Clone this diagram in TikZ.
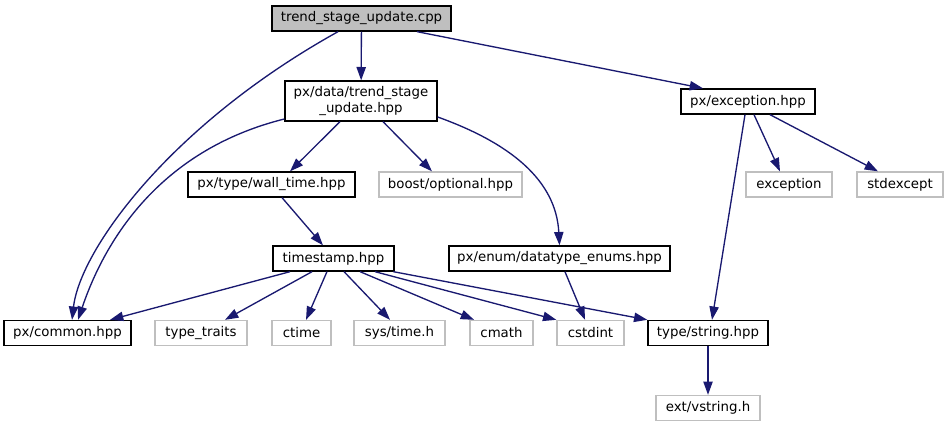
\documentclass[tikz,border=0pt]{standalone}
\usepackage{fontspec}
\setmainfont{DejaVu Sans}
\usetikzlibrary{arrows.meta,positioning}
\definecolor{edgeblue}{HTML}{191970}
\definecolor{extgray}{HTML}{BFBFBF}
\definecolor{rootgray}{HTML}{BFBFBF}

\begin{document}
\begin{tikzpicture}[x=0.75pt,y=-0.75pt,>={Triangle[length=10pt,width=7pt]},font=\fontsize{10}{11.5}\selectfont,
  hdr/.style={draw=black,line width=1pt,minimum height=18.75pt,inner sep=0pt},
  sys/.style={draw=extgray,line width=1pt,minimum height=18.75pt,inner sep=0pt},
  inc/.style={->,edgeblue,line width=1pt}]
\useasboundingbox (0,0) rectangle (948,427);
\node[hdr,fill=rootgray,minimum width=134.25pt] (cpp) at (361.5,18.5) {trend\_stage\_update.cpp};
\node[hdr,minimum width=114pt,minimum height=30pt,align=center] (data) at (361,101) {px/data/trend\_stage\\\_update.hpp};
\node[hdr,minimum width=100.5pt] (exc) at (748,101.5) {px/exception.hpp};
\node[hdr,minimum width=125.25pt] (wall) at (271.5,184.5) {px/type/wall\_time.hpp};
\node[sys,minimum width=107.25pt] (boost) at (450.5,184.5) {boost/optional.hpp};
\node[sys,minimum width=64.5pt] (excs) at (789,184.5) {exception};
\node[sys,minimum width=64.5pt] (stdx) at (900,184.5) {stdexcept};
\node[hdr,minimum width=90.75pt] (ts) at (333.5,258.5) {timestamp.hpp};
\node[hdr,minimum width=165.75pt] (denum) at (559.5,258.5) {px/enum/datatype\_enums.hpp};
\node[hdr,minimum width=95.25pt] (common) at (67.5,333) {px/common.hpp};
\node[sys,minimum width=69pt] (ttraits) at (201,333) {type\_traits};
\node[sys,minimum width=44.25pt] (ctime) at (301.5,333) {ctime};
\node[sys,minimum width=68.25pt] (systime) at (399.5,333) {sys/time.h};
\node[sys,minimum width=47.25pt] (cmath) at (501.5,333) {cmath};
\node[sys,minimum width=50.25pt] (cstdint) at (590.5,333) {cstdint};
\node[hdr,minimum width=90pt] (tstring) at (708,333) {type/string.hpp};
\node[sys,minimum width=78pt] (vstring) at (708,408) {ext/vstring.h};
\draw[inc] (cpp) -- (data);
\draw[inc] ([xshift=41.6pt]cpp.south) -- ([xshift=-33.75pt]exc.north);
\draw[inc] ([xshift=-17.6pt]cpp.south) .. controls (170,125) and (80,250) .. ([xshift=3.4pt]common.north);
\draw[inc] ([yshift=-13.5pt]data.west) .. controls (160,150) and (105,240) .. ([xshift=7.9pt]common.north);
\draw[inc] ([xshift=-15.75pt]data.south) -- ([xshift=13.9pt]wall.north);
\draw[inc] ([xshift=16.5pt]data.south) -- ([xshift=-13.9pt]boost.north);
\draw[inc] ([yshift=-12pt]data.east) .. controls (510,143) and (556,180) .. (denum.north);
\draw[inc] ([xshift=7.9pt]wall.south) -- ([xshift=-7.9pt]ts.north);
\draw[inc] ([xshift=-2.25pt]exc.south) -- ([xshift=3pt]tstring.north);
\draw[inc] ([xshift=4.5pt]exc.south) -- ([xshift=-6.75pt]excs.north);
\draw[inc] ([xshift=16.5pt]exc.south) -- ([xshift=-16.5pt]stdx.north);
\draw[inc] ([xshift=-32.6pt]ts.south) -- ([xshift=31.9pt]common.north);
\draw[inc] ([xshift=-16.1pt]ts.south) -- ([xshift=18pt]ttraits.north);
\draw[inc] ([xshift=-4.9pt]ts.south) -- ([xshift=3.4pt]ctime.north);
\draw[inc] ([xshift=7.9pt]ts.south) -- ([xshift=-7.1pt]systime.north);
\draw[inc] ([xshift=19.9pt]ts.south) -- ([xshift=-20.6pt]cmath.north);
\draw[inc] ([xshift=31.1pt]ts.south) -- (cstdint.north west);
\draw[inc] ([xshift=-1pt]ts.south east) -- (tstring.north west);
\draw[inc] ([xshift=4.1pt]denum.south) -- ([xshift=-4.1pt]cstdint.north);
\draw[inc] (tstring) -- (vstring);
\end{tikzpicture}
\end{document}
